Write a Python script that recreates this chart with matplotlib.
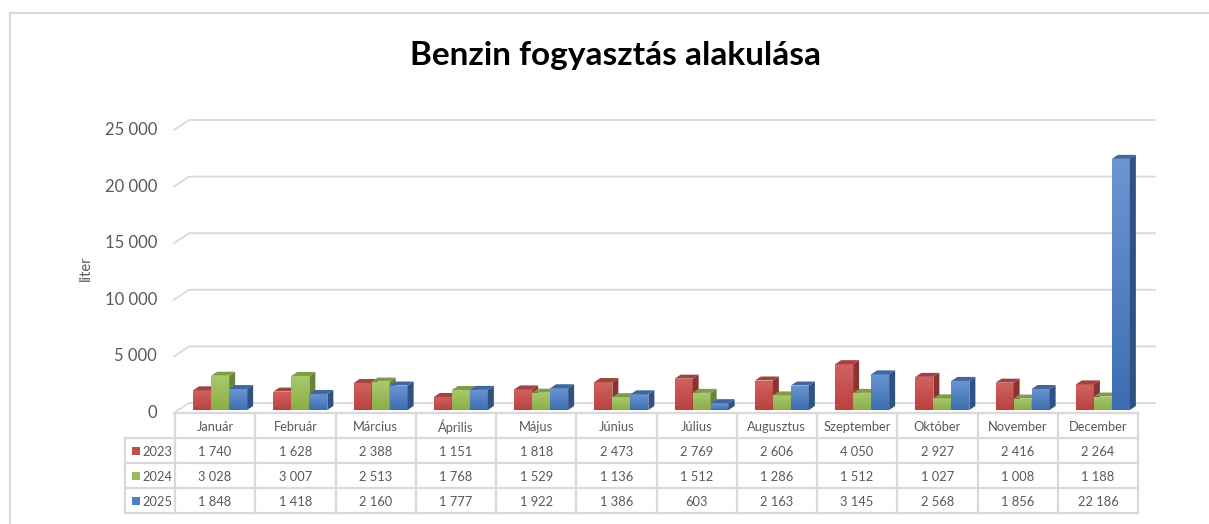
import matplotlib
matplotlib.use("Agg")
import matplotlib.pyplot as plt
import numpy as np
from matplotlib.patches import Polygon, Rectangle

plt.rcParams['font.family'] = ['Lato', 'DejaVu Sans']

# ---- data ----
months = ['Január', 'Február', 'Március', 'Április', 'Május', 'Június',
          'Július', 'Augusztus', 'Szeptember', 'Október', 'November', 'December']
years = ['2023', '2024', '2025']
v2023 = [1740, 1628, 2388, 1151, 1818, 2473, 2769, 2606, 4050, 2927, 2416, 2264]
v2024 = [3028, 3007, 2513, 1768, 1529, 1136, 1512, 1286, 1512, 1027, 1008, 1188]
v2025 = [1848, 1418, 2160, 1777, 1922, 1386, 603, 2163, 3145, 2568, 1856, 22186]
series = [v2023, v2024, v2025]
yticks = [0, 5000, 10000, 15000, 20000, 25000]

# colours: (front top, front bottom, top face, side face, legend)
palette = [
    ('#D2625F', '#BA423F', '#A34341', '#8A3331', '#C0504D'),
    ('#AAC96C', '#8CAE49', '#7F9D46', '#68833A', '#9BBB59'),
    ('#6B95D3', '#3D6EB1', '#40679B', '#2F5283', '#4F81BD'),
]
grid_c = '#D9D9D9'
text_c = '#595959'

W, H = 1209, 524
fig = plt.figure(figsize=(W / 100, H / 100), dpi=100)

# pixel layout of the plot (front plane)
x_left, x_right = 175, 1138
y_base, y_top = 410, 110
K = 283 / 25000                 # px per liter
PX = (x_right - x_left) / 12    # px per category

ax = fig.add_axes([x_left / W, 1 - y_base / H, (x_right - x_left) / W, (y_base - y_top) / H])
ax.set_xlim(-0.5, 11.5)
ax.set_ylim(0, (y_base - y_top) / K)
ax.axis('off')

dxp = lambda p: p / PX
dyp = lambda p: p / K

# back wall gridlines with the 3D diagonal on the left
for v in yticks:
    fy = v - dyp(3)
    by = v + dyp(7)
    fx = -0.5 - dxp(1)
    bx = -0.5 + dxp(14)
    ax.plot([fx, bx, 11.5 + dxp(17)], [fy, by, by], color=grid_c, lw=1.3,
            clip_on=False, zorder=1, solid_joinstyle='miter')
    ax.text(-0.5 - dxp(18), fy, f'{v:,}'.replace(',', ' '), ha='right', va='center',
            fontsize=12, color=text_c, clip_on=False)

ax.text(-0.5 - dxp(89), 12500, 'liter', rotation=90, ha='center', va='center',
        fontsize=10.5, color=text_c, clip_on=False)

# 3D columns
bw = dxp(18)
ddx, ddy = dxp(6), dyp(4)
x = np.arange(len(months))
for s, vals in enumerate(series):
    ftop, fbot, ctop, cside, _ = palette[s]
    xs = x - dxp(22) + s * bw
    bars = ax.bar(xs, vals, width=bw, align='edge', color=fbot, lw=0, zorder=3 + s)
    grad = np.linspace(0, 1, 64).reshape(-1, 1)
    cmap = matplotlib.colors.LinearSegmentedColormap.from_list('g', [fbot, ftop])
    for b, v in zip(bars, vals):
        x0 = b.get_x()
        im = ax.imshow(grad, extent=[x0, x0 + bw, 0, v], origin='lower', cmap=cmap,
                       aspect='auto', zorder=3 + s)
        im.set_clip_path(b)
        side = Polygon([[x0 + bw, 0], [x0 + bw + ddx, ddy], [x0 + bw + ddx, v + ddy], [x0 + bw, v]],
                       closed=True, facecolor=cside, lw=0, zorder=3 + s)
        top = Polygon([[x0, v], [x0 + ddx, v + ddy], [x0 + bw + ddx, v + ddy], [x0 + bw, v]],
                      closed=True, facecolor=ctop, lw=0, zorder=3 + s)
        ax.add_patch(side)
        ax.add_patch(top)

# ---- data table ----
t_top, t_bot = 413, 513
tab = fig.add_axes([x_left / W, 1 - t_bot / H, (x_right - x_left) / W, (t_bot - t_top) / H])
tab.set_xlim(-0.5, 11.5)
tab.set_ylim(4, 0)
tab.axis('off')
leg_x = -0.5 - dxp(50)
lk = dict(color=grid_c, lw=1.6, clip_on=False, solid_capstyle='projecting')
for r in range(5):
    x0 = -0.5 if r == 0 else leg_x
    tab.plot([x0, 11.5], [r, r], **lk)
for c in range(13):
    tab.plot([c - 0.5, c - 0.5], [0, 4], **lk)
tab.plot([leg_x, leg_x], [1, 4], **lk)

for i, m in enumerate(months):
    tab.text(i, 0.55, m, ha='center', va='center', fontsize=9.3, color=text_c)
for s, vals in enumerate(series):
    for i, v in enumerate(vals):
        tab.text(i, s + 1.55, f'{v:,}'.replace(',', ' '), ha='center', va='center',
                 fontsize=9.3, color=text_c)
    tab.add_patch(Rectangle((leg_x + dxp(7), s + 1.5 - 0.16), dxp(8), 0.32,
                            facecolor=palette[s][4], lw=0, clip_on=False))
    tab.text(leg_x + dxp(17), s + 1.55, years[s], ha='left', va='center',
             fontsize=9.3, color=text_c, clip_on=False)

# chart frame and title
fig.add_artist(plt.Line2D([10 / W, 10 / W], [0, 1 - 13 / H], color=grid_c, lw=1.5))
fig.add_artist(plt.Line2D([10 / W, 1], [1 - 13 / H, 1 - 13 / H], color=grid_c, lw=1.5))
fig.text(616 / W, 1 - 56 / H, 'Benzin fogyasztás alakulása', ha='center', va='center',
         fontsize=24, fontweight='bold', color='black')

fig.savefig('out.png', dpi=100)
